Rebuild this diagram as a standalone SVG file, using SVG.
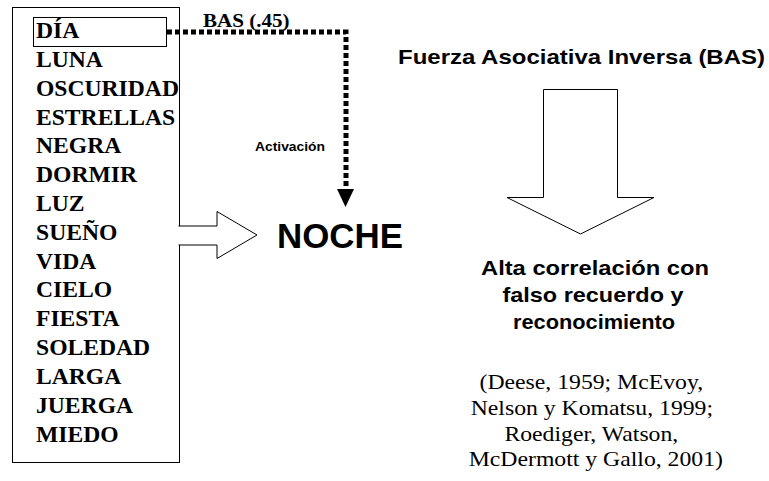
<svg xmlns="http://www.w3.org/2000/svg" width="769" height="481" viewBox="0 0 769 481">
<style>
  .w { font-family: "Liberation Serif", "Times New Roman", serif; font-weight: bold; font-size: 22.5px; fill: #000; }
  .s { font-family: "Liberation Sans", Arial, sans-serif; font-weight: bold; fill: #000; }
  .r { font-family: "Liberation Serif", "Times New Roman", serif; font-size: 21px; fill: #000; text-anchor: middle; }
  .ln { fill: none; stroke: #000; stroke-width: 1; }
  .blk { fill: #fff; stroke: #000; stroke-width: 1; }
  .dot { fill: none; stroke: #000; stroke-width: 5; stroke-dasharray: 5 3; }
</style>
<rect width="769" height="481" fill="#fff"/>
<g id="lista">
  <rect class="ln" x="12.5" y="7.5" width="167" height="455"/>
  <rect class="ln" x="33.5" y="17.5" width="133" height="29"/>
  <g transform="translate(36 0) scale(1.05 1)">
    <text class="w" x="0" y="38">DÍA</text>
    <text class="w" x="0" y="67">LUNA</text>
    <text class="w" x="0" y="96">OSCURIDAD</text>
    <text class="w" x="0" y="125">ESTRELLAS</text>
    <text class="w" x="0" y="153">NEGRA</text>
    <text class="w" x="0" y="182">DORMIR</text>
    <text class="w" x="0" y="211">LUZ</text>
    <text class="w" x="0" y="240">SUEÑO</text>
    <text class="w" x="0" y="269">VIDA</text>
    <text class="w" x="0" y="297">CIELO</text>
    <text class="w" x="0" y="326">FIESTA</text>
    <text class="w" x="0" y="355">SOLEDAD</text>
    <text class="w" x="0" y="384">LARGA</text>
    <text class="w" x="0" y="413">JUERGA</text>
    <text class="w" x="0" y="442">MIEDO</text>
  </g>
</g>
<g id="conectores">
  <path class="dot" d="M167,32 H346 V189"/>
  <polygon points="337,189 354,189 345.5,207" fill="#000"/>
  <path class="blk" d="M178.5,226 H217 V211.5 L257,235 L217,258.5 V245 H178.5"/>
  <path class="blk" d="M543.5,89.5 H617.5 V197.5 H654 L580.5,234 L507,197.5 H543.5 Z"/>
  <text class="w" transform="translate(203 0) scale(1.08 1)" x="0" y="27" style="font-size:19.5px">BAS (.45)</text>
  <text class="s" x="255" y="151" style="font-size:13px" textLength="70" lengthAdjust="spacingAndGlyphs">Activación</text>
</g>
<g id="noche">
  <text class="s" x="277" y="248" style="font-size:35px" textLength="126" lengthAdjust="spacingAndGlyphs">NOCHE</text>
</g>
<g id="bas">
  <text class="s" x="398" y="64" style="font-size:21px" textLength="367" lengthAdjust="spacingAndGlyphs">Fuerza Asociativa Inversa (BAS)</text>
</g>
<g id="correlacion">
  <text class="s" x="595" y="275" text-anchor="middle" style="font-size:21px" textLength="228" lengthAdjust="spacingAndGlyphs">Alta correlación con</text>
  <text class="s" x="593" y="302" text-anchor="middle" style="font-size:21px" textLength="181" lengthAdjust="spacingAndGlyphs">falso recuerdo y</text>
  <text class="s" x="594" y="329" text-anchor="middle" style="font-size:21px" textLength="162" lengthAdjust="spacingAndGlyphs">reconocimiento</text>
</g>
<g id="referencias" transform="translate(593 0) scale(1.13 1)">
  <text class="r" x="-1.5" y="389">(Deese, 1959; McEvoy,</text>
  <text class="r" x="-1" y="415">Nelson y Komatsu, 1999;</text>
  <text class="r" x="-1.5" y="441">Roediger, Watson,</text>
  <text class="r" x="2.5" y="466">McDermott y Gallo, 2001)</text>
</g>
</svg>
